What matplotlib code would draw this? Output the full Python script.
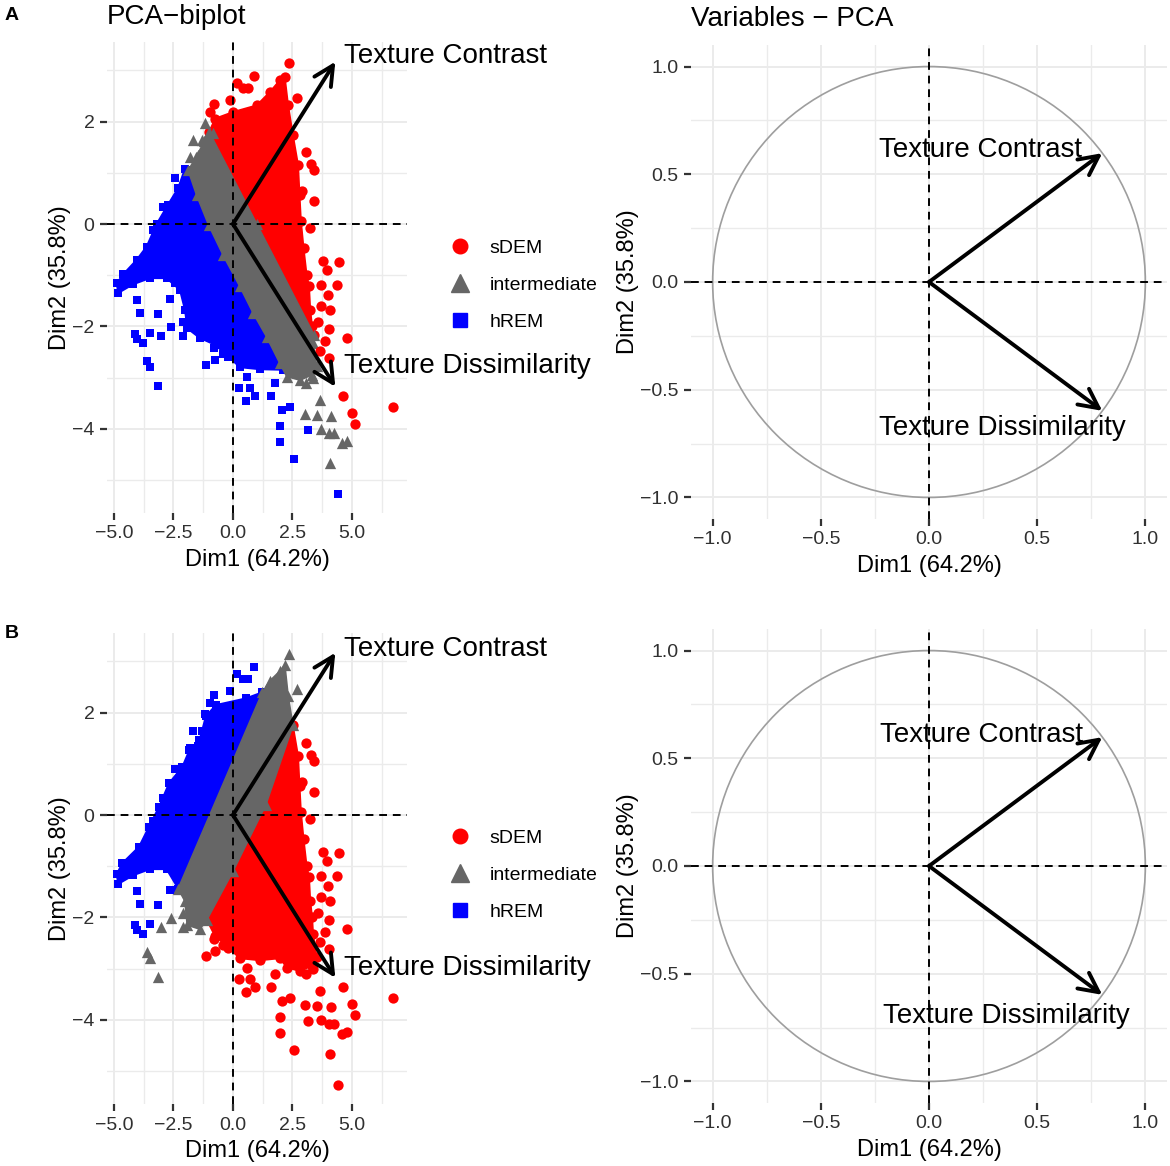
import numpy as np
import matplotlib
matplotlib.use("Agg")
import matplotlib.pyplot as plt
from matplotlib.patches import Circle
from matplotlib.lines import Line2D

plt.rcParams['font.family'] = ['Liberation Sans', 'DejaVu Sans']

# ---------------- data ----------------
groups = ["sDEM", "intermediate", "hREM"]
codes = {"S": "sDEM", "I": "intermediate", "H": "hREM"}
colors = {"sDEM": "#FF0000", "intermediate": "#666666", "hREM": "#0000FF"}
markers = {"sDEM": "o", "intermediate": "^", "hREM": "s"}
sizes = {"sDEM": 55, "intermediate": 66, "hREM": 40}

# dense clouds of individuals (outline of the overplotted region), panel A
A_red_x = [-1.0, -0.75, 0.01, 1.0, 1.55, 1.97, 2.18, 2.32, 2.52, 2.74, 2.80, 2.86, 2.97,
           3.10, 3.20, 3.25, 3.33, 3.40, 1.0]
A_red_y = [1.80, 2.06, 2.19, 2.32, 2.58, 2.81, 2.87, 2.32, 1.74, 1.15, 0.57, 0.05, -0.47,
           -1.0, -1.22, -1.68, -2.0, -2.16, 0.0]
A_gray_x = [-1.88, -1.55, -1.20, -1.0, 1.0, 3.40, 3.37, 3.52, 3.30, 2.82, 2.26, 1.97, 1.41,
            0.85, 0.29, -0.41, -1.02, -1.53]
A_gray_y = [1.05, 1.30, 1.62, 1.80, 0.0, -2.16, -2.33, -2.78, -2.95, -3.05, -2.98, -2.72, -2.2,
            -1.74, -1.22, -0.61, -0.02, 0.57]
A_blue_x = [-2.02, -2.31, -2.73, -3.21, -3.63, -4.05, -4.61, -4.89, -4.82, -4.19, -3.49, -2.79,
            -2.23, -2.02, -1.92, -1.39, -0.76, -0.2, 0.29, 1.13, 2.10, 1.97, 1.41, 0.85, 0.29,
            -0.41, -1.02, -1.53, -1.88]
A_blue_y = [1.08, 0.70, 0.38, 0.0, -0.44, -0.70, -0.98, -1.16, -1.35, -1.18, -1.06, -1.06,
            -1.29, -1.68, -2.04, -2.23, -2.36, -2.59, -2.80, -2.84, -2.85, -2.72, -2.2, -1.74,
            -1.22, -0.61, -0.02, 0.57, 1.05]

# panel B
B_blue_x = [1.24, 0.54, -0.72, -1.14, -1.41, -1.83, -2.13, -2.69, -3.11, -3.53, -3.95, -4.65,
            -4.89, -4.82, -4.19, -3.49, -2.79, -2.30]
B_blue_y = [2.40, 2.28, 2.15, 1.93, 1.46, 1.27, 0.94, 0.62, 0.16, -0.23, -0.62, -0.94,
            -1.16, -1.35, -1.18, -1.06, -1.06, -1.44]
B_gray_x = [1.24, 1.55, 1.97, 2.18, 2.32, 2.52, 1.38, 0.0, -1.10, -1.39, -1.92, -2.02, -2.30]
B_gray_y = [2.40, 2.62, 2.81, 2.93, 2.32, 1.75, 0.20, -1.10, -2.05, -2.23, -2.15, -1.68, -1.44]
B_red_x = [2.52, 2.74, 2.80, 2.86, 2.97, 3.10, 3.20, 3.25, 3.33, 3.37, 3.52, 3.30, 2.82, 2.26,
           1.97, 1.13, 0.29, -0.2, -0.76, -1.10, 0.0, 1.38]
B_red_y = [1.75, 1.15, 0.57, 0.05, -0.47, -1.0, -1.22, -1.68, -2.0, -2.33, -2.78, -2.95, -3.05,
           -2.98, -2.80, -2.84, -2.80, -2.59, -2.36, -2.05, -1.10, 0.20]

# isolated individuals: Dim1, Dim2, group in panel A, group in panel B
out_x = [2.35, 0.90, 0.15, 0.43, 0.64, -0.80, -0.97, -0.13, 2.67,
         3.05, 3.42, 3.26, 3.40, 2.89, 3.24, 3.77, 4.45, 3.96, 4.38, 3.68, 4.0, 3.68, 4.08,
         3.59, 4.05, 4.80, 3.87, 3.66, 4.05, 4.63, 4.99, 5.13, 6.71,
         -1.18, -0.83, -1.67, -1.32, -1.81, -1.46, -1.60, -1.04,
         3.03, 3.54, 4.10, 3.66, 3.68, 4.05, 4.26, 4.57, 4.80, 4.08, 3.37, 3.05,
         -4.02, -3.91, -3.14, -2.44, -2.65, -4.12, -4.02, -3.77, -3.49, -2.44, -2.93, -3.37,
         -3.04, -2.62, -2.11, -2.11, -3.63, -3.49, -3.14,
         -1.13, -0.76, -0.41, -0.80, 0.57, 0.27, 0.71, 0.92, 0.55, 1.58, 1.76, 2.04, 2.39,
         1.97, 1.97, 3.16, 2.58, 4.43]
out_y = [3.14, 2.89, 2.76, 2.65, 2.66, 2.34, 2.19, 2.42, 2.47,
         1.40, 1.05, 1.17, 0.44, 0.64, -0.08, -0.72, -0.74, -0.90, -1.19, -1.19, -1.39, -1.60,
         -1.68, -1.91, -2.06, -2.23, -2.29, -2.49, -2.62, -3.36, -3.70, -3.91, -3.57,
         1.97, 1.77, 1.64, 1.64, 1.31, 1.35, 1.19, 1.54,
         -3.71, -3.73, -3.76, -3.44, -4.01, -4.09, -4.09, -4.27, -4.23, -4.66, -3.01, -3.10,
         -1.48, -1.73, -1.76, -1.16, -1.47, -2.15, -2.25, -2.32, -2.12, 0.89, 0.34, -0.12,
         -2.19, -2.02, -2.19, -1.92, -2.67, -2.80, -3.16,
         -2.75, -2.66, -2.53, -2.43, -2.98, -3.21, -3.21, -3.36, -3.45, -3.36, -3.11, -3.63,
         -3.58, -3.95, -4.25, -4.03, -4.59, -5.27]
out_group_A = list("SSSSSSSSS" "SSSSSSSSSSSSSSSSSSSSSSSS" "IIIIIIII" "IIIIIIIIIIII"
                   "HHHHHHHHHHHH" "HHHHHHH" "HHHHHHHHHHHHHHHHHH")
out_group_B = list("IHHHHHHHI" "SSSSSSSSSSSSSSSSSSSSSSSS" "HHHHHHHH" "SSSSSSSSSSSS"
                   "HHHHHHHHHHHH" "IIIIIII" "SSSSSSSSSSSSSSSSSS")

# variable coordinates (correlation circle) and arrows in the biplot
var_names = ["Texture Contrast", "Texture Dissimilarity"]
var_dim1 = [0.801, 0.801]
var_dim2 = [0.598, -0.598]
biplot_dim1 = [4.30, 4.30]
biplot_dim2 = [3.17, -3.18]

# ---------------- layout ----------------
W, H = 1170, 1166
fig = plt.figure(figsize=(W / 100, H / 100), dpi=100)


def box(x0, x1, ytop, ybot):
    return [x0 / W, 1 - ybot / H, (x1 - x0) / W, (ybot - ytop) / H]


GRID = "#EBEBEB"
TXT = "#303030"


def style_axes(ax, xmaj, xlab, xmin, ymaj, ylab, ymin, xlim, ylim):
    ax.set_xlim(*xlim)
    ax.set_ylim(*ylim)
    ax.set_xticks(xmaj)
    ax.set_xticklabels(xlab)
    ax.set_xticks(xmin, minor=True)
    ax.set_yticks(ymaj)
    ax.set_yticklabels(ylab)
    ax.set_yticks(ymin, minor=True)
    for s in ax.spines.values():
        s.set_visible(False)
    ax.set_axisbelow(True)
    ax.grid(which="major", color=GRID, lw=1.4)
    ax.grid(which="minor", color=GRID, lw=1.0)
    ax.tick_params(which="major", length=5, width=1.6, color="#333333",
                   labelsize=14, labelcolor=TXT, pad=4)
    ax.tick_params(which="minor", length=0)
    ax.axhline(0, color="black", lw=1.4, dashes=(4, 3), zorder=3)
    ax.axvline(0, color="black", lw=1.4, dashes=(4, 3), zorder=3)
    ax.set_xlabel("Dim1 (64.2%)", fontsize=17, labelpad=5)
    ax.set_ylabel("Dim2 (35.8%)", fontsize=17, labelpad=1)


def biplot(ax, polys, grp, lab_y):
    style_axes(ax, [-5, -2.5, 0, 2.5, 5], ["\u22125.0", "\u22122.5", "0.0", "2.5", "5.0"],
               [-3.75, -1.25, 1.25, 3.75, 6.25],
               [-4, -2, 0, 2], ["\u22124", "\u22122", "0", "2"], [-5, -3, -1, 1, 3],
               (-5.29, 7.31), (-5.645, 3.555))
    # dense part: filled outline, with a marker on each outline point
    for px, py, g in polys:
        ax.fill(px, py, color=colors[g], lw=1.2, ec=colors[g], zorder=1)
        ax.scatter(px, py, s=sizes[g], marker=markers[g], color=colors[g], lw=0, zorder=1)
    ox = np.array(out_x)
    oy = np.array(out_y)
    gg = np.array([codes[c] for c in grp])
    for g in groups:
        m = gg == g
        ax.scatter(ox[m], oy[m], s=sizes[g], marker=markers[g], color=colors[g],
                   lw=0, zorder=2)
    for i in range(2):
        ax.annotate("", xy=(biplot_dim1[i], biplot_dim2[i]), xytext=(0, 0),
                    arrowprops=dict(arrowstyle="->,head_length=0.7,head_width=0.35",
                                    lw=2.8, color="black", shrinkA=0, shrinkB=0,
                                    mutation_scale=20), zorder=4)
        ax.text(4.68, lab_y[i], var_names[i], fontsize=20, ha="left", va="baseline",
                zorder=5, clip_on=False)


def circle(ax, lab_x, lab_y):
    t = [-1, -0.5, 0, 0.5, 1]
    tl = ["\u22121.0", "\u22120.5", "0.0", "0.5", "1.0"]
    mn = [-0.75, -0.25, 0.25, 0.75]
    style_axes(ax, t, tl, mn, t, tl, mn, (-1.1, 1.1), (-1.1, 1.1))
    ax.add_patch(Circle((0, 0), 1, fill=False, ec="#9E9E9E", lw=1.2, zorder=2))
    for i in range(2):
        ax.annotate("", xy=(var_dim1[i], var_dim2[i]), xytext=(0, 0),
                    arrowprops=dict(arrowstyle="->,head_length=0.7,head_width=0.35",
                                    lw=2.8, color="black", shrinkA=0, shrinkB=0,
                                    mutation_scale=20), zorder=4)
        ax.text(lab_x[i], lab_y[i], var_names[i], fontsize=20, ha="left", va="baseline",
                zorder=5)


axA1 = fig.add_axes(box(107, 407, 42, 513))
axA2 = fig.add_axes(box(691, 1167, 45, 519))
axB1 = fig.add_axes(box(107, 407, 633, 1104))
axB2 = fig.add_axes(box(691, 1167, 629, 1103))

biplot(axA1, [(A_blue_x, A_blue_y, "hREM"), (A_red_x, A_red_y, "sDEM"),
              (A_gray_x, A_gray_y, "intermediate")], out_group_A, [3.14, -2.92])
biplot(axB1, [(B_blue_x, B_blue_y, "hREM"), (B_red_x, B_red_y, "sDEM"),
              (B_gray_x, B_gray_y, "intermediate")], out_group_B, [3.11, -3.12])
circle(axA2, [-0.229, -0.229], [0.579, -0.712])
circle(axB2, [-0.226, -0.212], [0.577, -0.73])

# legends
handles = [Line2D([], [], ls="", marker=markers[g], color=colors[g],
                  ms={"sDEM": 10.5, "intermediate": 13.5, "hREM": 10.5}[g]) for g in groups]
for ax, yc in [(axA1, 285), (axB1, 875)]:
    ax.legend(handles, groups, loc="center left", bbox_to_anchor=(445 / W, 1 - yc / H),
              bbox_transform=fig.transFigure, frameon=False, fontsize=14,
              handlelength=1.5, handletextpad=0.8, labelspacing=1.0, borderpad=0,
              borderaxespad=0)

# titles and panel letters
fig.text(107 / W, 1 - 24 / H, "PCA\u2212biplot", fontsize=20, ha="left", va="baseline")
fig.text(691 / W, 1 - 26 / H, "Variables \u2212 PCA", fontsize=20, ha="left", va="baseline")
fig.text(5 / W, 1 - 20 / H, "A", fontsize=14, fontweight="bold", ha="left", va="baseline")
fig.text(5 / W, 1 - 638 / H, "B", fontsize=14, fontweight="bold", ha="left", va="baseline")

fig.savefig("out.png", dpi=100)
